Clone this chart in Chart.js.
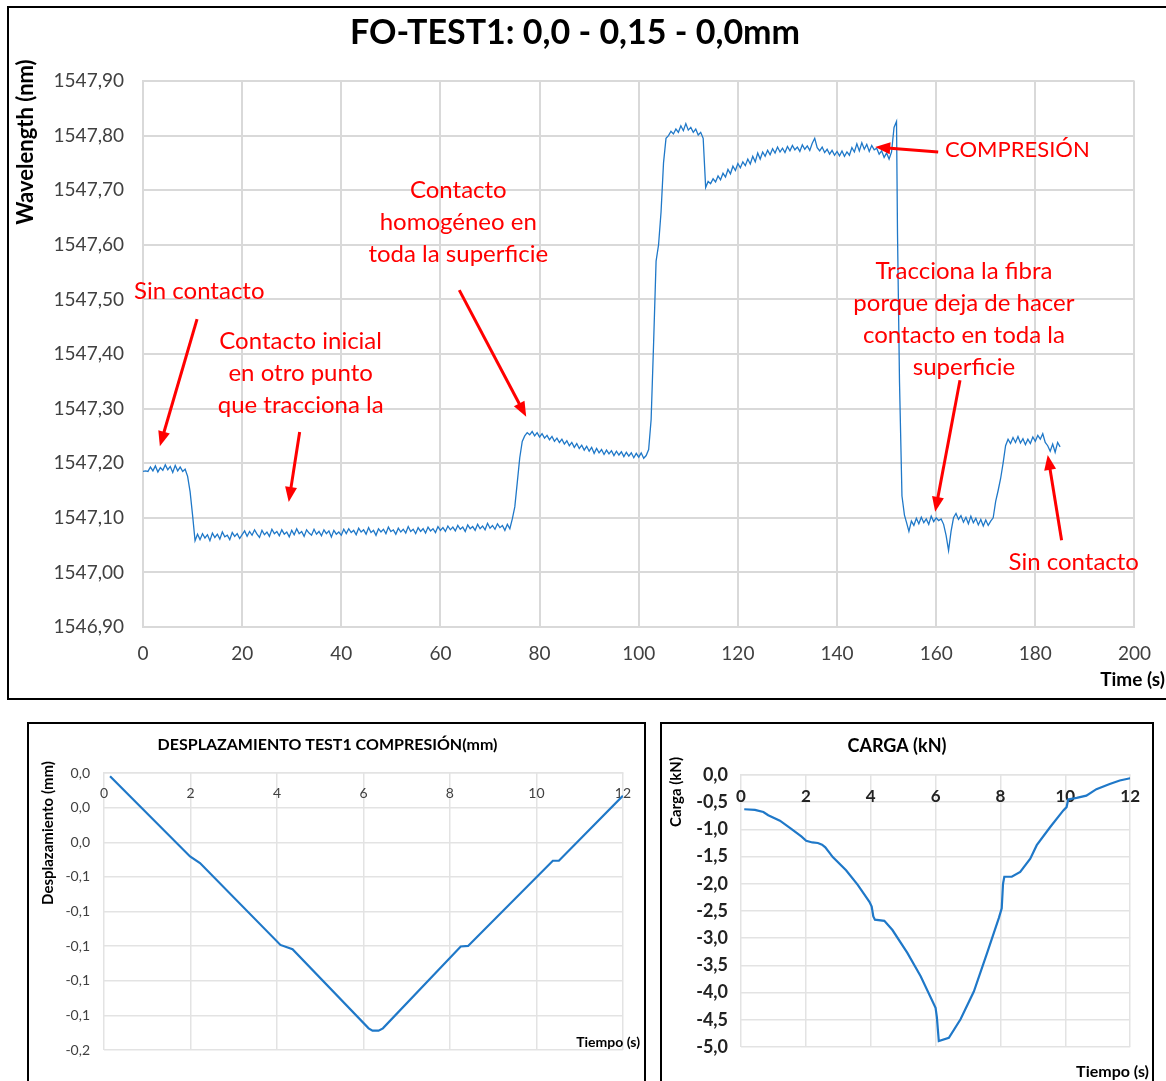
<!DOCTYPE html>
<html>
<head>
<meta charset="utf-8">
<script src="https://cdn.jsdelivr.net/npm/chart.js@4.4.1/dist/chart.umd.min.js"></script>
<style>
    body { margin: 0; background: #fff; width: 1166px; height: 1081px; position: relative; overflow: hidden; }
    .frame { position: absolute; border: 2px solid #000; box-sizing: border-box; }
    canvas { position: absolute; }
</style>
</head>
<body>
<div class="frame" style="left:7px;top:6px;width:1170px;height:694px"></div>
<div class="frame" style="left:27px;top:722px;width:619px;height:380px"></div>
<div class="frame" style="left:660px;top:722px;width:494px;height:380px"></div>

<canvas id="wlChart" width="1157" height="690" style="left:9px;top:8px"></canvas>
<canvas id="despChart" width="613" height="356" style="left:30px;top:725px"></canvas>
<canvas id="cargaChart" width="488" height="356" style="left:663px;top:725px"></canvas>

<script>
// --- Daten: FO-TEST1 Wellenlänge (Zeit s, nm) ---
const wlTicks = [1546.9, 1547.0, 1547.1, 1547.2, 1547.3, 1547.4, 1547.5, 1547.6, 1547.7, 1547.8, 1547.9];
const timeTicks = [0, 20, 40, 60, 80, 100, 120, 140, 160, 180, 200];

const wlSeries = [
    [0,1547.185],[0.5,1547.186],[1,1547.185],[1.5,1547.193],[2,1547.186],[2.5,1547.195],[3,1547.184],[3.5,1547.192],
    [4,1547.187],[4.5,1547.197],[5,1547.188],[5.5,1547.194],[6,1547.183],[6.5,1547.196],[7,1547.186],[7.5,1547.193],
    [8,1547.185],[8.5,1547.189],[9,1547.176],[9.5,1547.148],[10,1547.105],[10.5,1547.058],[11,1547.070],[11.5,1547.060],
    [12,1547.071],[12.5,1547.063],[13,1547.069],[13.5,1547.058],[14,1547.072],[14.5,1547.064],[15,1547.070],[15.5,1547.061],
    [16,1547.074],[16.5,1547.065],[17,1547.068],[17.5,1547.060],[18,1547.073],[18.5,1547.066],[19,1547.071],[19.5,1547.062],
    [20,1547.069],[20.5,1547.076],[21,1547.066],[21.5,1547.075],[22,1547.068],[22.5,1547.078],[23,1547.070],[23.5,1547.064],
    [24,1547.077],[24.5,1547.069],[25,1547.074],[25.5,1547.066],[26,1547.079],[26.5,1547.071],[27,1547.075],[27.5,1547.067],
    [28,1547.078],[28.5,1547.070],[29,1547.074],[29.5,1547.065],[30,1547.077],[30.5,1547.069],[31,1547.080],[31.5,1547.071],
    [32,1547.075],[32.5,1547.066],[33,1547.078],[33.5,1547.072],[34,1547.068],[34.5,1547.079],[35,1547.070],[35.5,1547.075],
    [36,1547.067],[36.5,1547.078],[37,1547.071],[37.5,1547.076],[38,1547.065],[38.5,1547.077],[39,1547.070],[39.5,1547.074],
    [40,1547.068],[40.5,1547.079],[41,1547.071],[41.5,1547.080],[42,1547.073],[42.5,1547.077],[43,1547.069],[43.5,1547.081],
    [44,1547.074],[44.5,1547.078],[45,1547.070],[45.5,1547.082],[46,1547.073],[46.5,1547.077],[47,1547.068],[47.5,1547.080],
    [48,1547.074],[48.5,1547.079],[49,1547.071],[49.5,1547.083],[50,1547.075],[50.5,1547.078],[51,1547.070],[51.5,1547.081],
    [52,1547.074],[52.5,1547.079],[53,1547.072],[53.5,1547.084],[54,1547.075],[54.5,1547.079],[55,1547.071],[55.5,1547.082],
    [56,1547.075],[56.5,1547.080],[57,1547.072],[57.5,1547.083],[58,1547.076],[58.5,1547.080],[59,1547.073],[59.5,1547.084],
    [60,1547.077],[60.5,1547.082],[61,1547.075],[61.5,1547.085],[62,1547.078],[62.5,1547.083],[63,1547.076],[63.5,1547.086],
    [64,1547.079],[64.5,1547.083],[65,1547.075],[65.5,1547.087],[66,1547.080],[66.5,1547.084],[67,1547.077],[67.5,1547.088],
    [68,1547.080],[68.5,1547.085],[69,1547.078],[69.5,1547.090],[70,1547.081],[70.5,1547.086],[71,1547.079],[71.5,1547.089],
    [72,1547.082],[72.5,1547.086],[73,1547.077],[73.5,1547.088],[74,1547.080],[74.5,1547.098],[75,1547.120],[75.5,1547.165],
    [76,1547.210],[76.5,1547.240],[77,1547.250],[77.5,1547.256],[78,1547.252],[78.5,1547.258],[79,1547.250],[79.5,1547.256],
    [80,1547.248],[80.5,1547.254],[81,1547.246],[81.5,1547.251],[82,1547.243],[82.5,1547.249],[83,1547.240],[83.5,1547.246],
    [84,1547.238],[84.5,1547.244],[85,1547.235],[85.5,1547.241],[86,1547.232],[86.5,1547.238],[87,1547.229],[87.5,1547.236],
    [88,1547.227],[88.5,1547.233],[89,1547.224],[89.5,1547.231],[90,1547.222],[90.5,1547.229],[91,1547.218],[91.5,1547.227],
    [92,1547.219],[92.5,1547.225],[93,1547.216],[93.5,1547.224],[94,1547.217],[94.5,1547.223],[95,1547.214],[95.5,1547.222],
    [96,1547.215],[96.5,1547.221],[97,1547.212],[97.5,1547.220],[98,1547.213],[98.5,1547.219],[99,1547.210],[99.5,1547.218],
    [100,1547.211],[100.5,1547.219],[101,1547.209],[101.5,1547.214],[102,1547.225],[102.5,1547.280],[103,1547.420],[103.5,1547.570],
    [104,1547.600],[104.5,1547.660],[105,1547.750],[105.5,1547.795],[106,1547.800],[106.5,1547.808],[107,1547.803],[107.5,1547.812],
    [108,1547.806],[108.5,1547.818],[109,1547.809],[109.5,1547.822],[110,1547.810],[110.5,1547.815],[111,1547.806],[111.5,1547.812],
    [112,1547.801],[112.5,1547.806],[113,1547.795],[113.5,1547.705],[114,1547.716],[114.5,1547.712],[115,1547.721],[115.5,1547.715],
    [116,1547.726],[116.5,1547.719],[117,1547.731],[117.5,1547.724],[118,1547.738],[118.5,1547.730],[119,1547.744],[119.5,1547.736],
    [120,1547.749],[120.5,1547.741],[121,1547.752],[121.5,1547.745],[122,1547.757],[122.5,1547.748],[123,1547.762],[123.5,1547.752],
    [124,1547.768],[124.5,1547.757],[125,1547.770],[125.5,1547.762],[126,1547.773],[126.5,1547.765],[127,1547.776],[127.5,1547.768],
    [128,1547.779],[128.5,1547.770],[129,1547.777],[129.5,1547.769],[130,1547.780],[130.5,1547.772],[131,1547.782],[131.5,1547.774],
    [132,1547.779],[132.5,1547.771],[133,1547.783],[133.5,1547.775],[134,1547.781],[134.5,1547.773],[135,1547.786],[135.5,1547.795],
    [136,1547.778],[136.5,1547.772],[137,1547.779],[137.5,1547.769],[138,1547.775],[138.5,1547.766],[139,1547.773],[139.5,1547.764],
    [140,1547.771],[140.5,1547.763],[141,1547.772],[141.5,1547.762],[142,1547.770],[142.5,1547.764],[143,1547.778],[143.5,1547.770],
    [144,1547.785],[144.5,1547.772],[145,1547.787],[145.5,1547.775],[146,1547.784],[146.5,1547.771],[147,1547.782],[147.5,1547.774],
    [148,1547.777],[148.5,1547.766],[149,1547.772],[149.5,1547.760],[150,1547.768],[150.5,1547.757],[151,1547.770],[151.5,1547.815],
    [152,1547.826],[152.2,1547.620],[152.6,1547.350],[153.1,1547.140],[153.6,1547.105],[154,1547.092],[154.5,1547.075],[155,1547.094],
    [155.5,1547.086],[156,1547.099],[156.5,1547.089],[157,1547.101],[157.5,1547.091],[158,1547.098],[158.5,1547.088],[159,1547.103],
    [159.5,1547.093],[160,1547.100],[160.5,1547.095],[161,1547.098],[161.5,1547.088],[162,1547.068],[162.5,1547.040],[163,1547.075],
    [163.5,1547.100],[164,1547.108],[164.5,1547.097],[165,1547.104],[165.5,1547.092],[166,1547.101],[166.5,1547.089],[167,1547.103],
    [167.5,1547.091],[168,1547.099],[168.5,1547.087],[169,1547.097],[169.5,1547.085],[170,1547.096],[170.5,1547.086],[171,1547.094],
    [171.5,1547.100],[172,1547.130],[172.5,1547.150],[173,1547.172],[173.5,1547.200],[174,1547.232],[174.5,1547.244],[175,1547.236],
    [175.5,1547.247],[176,1547.238],[176.5,1547.249],[177,1547.237],[177.5,1547.245],[178,1547.234],[178.5,1547.244],[179,1547.236],
    [179.5,1547.248],[180,1547.240],[180.5,1547.251],[181,1547.244],[181.5,1547.254],[182,1547.238],[182.5,1547.232],[183,1547.222],
    [183.5,1547.235],[184,1547.220],[184.5,1547.238],[185,1547.230]
];

// --- Daten: Desplazamiento (s, mm) ---
const dispTickValues = [-0.16, -0.14, -0.12, -0.10, -0.08, -0.06, -0.04, -0.02, 0];
const dispTickLabels = ['-0,2', '-0,1', '-0,1', '-0,1', '-0,1', '-0,1', '0,0', '0,0', '0,0'];
const secTicks = [0, 2, 4, 6, 8, 10, 12];
const dispSeries = [
    [0.14,-0.0019],[1.99,-0.0482],[2.22,-0.0520],[4.08,-0.0993],[4.36,-0.1018],[6.12,-0.1475],[6.21,-0.1488],
    [6.35,-0.1488],[6.45,-0.1475],[8.25,-0.1002],[8.42,-0.0999],[10.38,-0.0507],[10.52,-0.0507],[12.0,-0.0131]
];

// --- Daten: Carga (s, kN) ---
const cargaTicks = [-5, -4.5, -4, -3.5, -3, -2.5, -2, -1.5, -1, -0.5, 0];
const cargaSeries = [
    [0.1,-0.63],[0.43,-0.64],[0.69,-0.68],[0.84,-0.74],[1.2,-0.84],[1.55,-0.99],[1.86,-1.13],[2.01,-1.21],
    [2.2,-1.24],[2.37,-1.25],[2.5,-1.28],[2.6,-1.33],[2.83,-1.51],[3.24,-1.75],[3.6,-2.02],[3.96,-2.33],
    [4.03,-2.42],[4.08,-2.60],[4.13,-2.66],[4.42,-2.68],[4.67,-2.85],[5.13,-3.27],[5.54,-3.70],[6.0,-4.28],
    [6.04,-4.45],[6.1,-4.89],[6.41,-4.83],[6.77,-4.49],[7.18,-3.98],[7.59,-3.27],[7.95,-2.63],[8.04,-2.45],
    [8.08,-2.00],[8.12,-1.87],[8.35,-1.87],[8.61,-1.78],[8.92,-1.54],[9.12,-1.29],[9.53,-0.96],[9.94,-0.65],
    [10.04,-0.59],[10.09,-0.45],[10.35,-0.42],[10.65,-0.38],[10.96,-0.26],[11.37,-0.165],[11.68,-0.10],[12.0,-0.06]
];

const FONT = "Lato";
const RED = "#ff0000";
const LINE_BLUE = "#1f78c8";
Chart.defaults.font.family = FONT;

// Zusätzliche Texte und Pfeile (rote Anmerkungen, Achsentitel)
const overlayPlugin = {
    id: "overlay",
    afterDraw(chart, args, opts) {
        const { ctx, scales } = chart;
        const toPx = (p) => p.data
            ? [scales.x.getPixelForValue(p.x), scales.y.getPixelForValue(p.y)]
            : [p.x, p.y];

        ctx.save();
        (opts.arrows || []).forEach((a) => {
            const [x1, y1] = toPx({ data: true, x: a.from[0], y: a.from[1] });
            const [x2, y2] = toPx({ data: true, x: a.to[0], y: a.to[1] });
            const ang = Math.atan2(y2 - y1, x2 - x1);
            const head = 15, half = 6;
            const c = Math.cos(ang), s = Math.sin(ang);
            ctx.strokeStyle = RED;
            ctx.fillStyle = RED;
            ctx.lineWidth = 3;
            ctx.beginPath();
            ctx.moveTo(x1, y1);
            ctx.lineTo(x2 - head * 0.8 * c, y2 - head * 0.8 * s);
            ctx.stroke();
            ctx.beginPath();
            ctx.moveTo(x2, y2);
            ctx.lineTo(x2 - head * c + half * s, y2 - head * s - half * c);
            ctx.lineTo(x2 - head * c - half * s, y2 - head * s + half * c);
            ctx.closePath();
            ctx.fill();
        });
        (opts.labels || []).forEach((l) => {
            const [x, y] = toPx(l);
            ctx.save();
            ctx.translate(x, y);
            if (l.rotate) ctx.rotate(l.rotate);
            ctx.font = l.font;
            ctx.fillStyle = l.color || "#000";
            ctx.textAlign = l.align || "center";
            ctx.textBaseline = "middle";
            l.lines.forEach((txt, i) => ctx.fillText(txt, 0, i * (l.lineHeight || 0)));
            ctx.restore();
        });
        ctx.restore();
    },
};

const comma = (v, d) => v.toFixed(d).replace(".", ",");
const setTicks = (values) => (scale) => { scale.ticks = values.map((v) => ({ value: v })); };

// ---------- Oberes Diagramm ----------
const noteFont = "24px " + FONT;
new Chart(document.getElementById("wlChart"), {
    type: "line",
    data: {
        datasets: [{
            data: wlSeries.map(([t, v]) => ({ x: t, y: v })),
            borderColor: LINE_BLUE,
            borderWidth: 1.3,
            pointRadius: 0,
            tension: 0,
        }],
    },
    options: {
        responsive: false,
        animation: false,
        layout: { padding: { top: 0, right: 25, bottom: 0, left: 0 } },
        plugins: {
            legend: { display: false },
            tooltip: { enabled: false },
            title: {
                display: true,
                text: "FO-TEST1: 0,0 - 0,15 - 0,0mm",
                color: "#000",
                font: { size: 34, weight: "bold" },
                padding: { top: 5, bottom: 27.2 },
            },
            overlay: {
                labels: [
                    { x: 17, y: 134, rotate: -Math.PI / 2, lines: ["Wavelength (nm)"], font: "bold 22px " + FONT },
                    { x: 1156, y: 672, align: "right", lines: ["Time (s)"], font: "bold 19px " + FONT },
                    { data: true, x: -1.8, y: 1547.515, align: "left", color: RED, font: noteFont, lines: ["Sin contacto"] },
                    { data: true, x: 31.8, y: 1547.424, color: RED, font: noteFont, lineHeight: 32,
                      lines: ["Contacto inicial", "en otro punto", "que tracciona la"] },
                    { data: true, x: 63.6, y: 1547.699, color: RED, font: noteFont, lineHeight: 32,
                      lines: ["Contacto", "homogéneo en", "toda la superficie"] },
                    { data: true, x: 161.8, y: 1547.774, align: "left", color: RED, font: "22px " + FONT, lines: ["COMPRESIÓN"] },
                    { data: true, x: 165.6, y: 1547.552, color: RED, font: noteFont, lineHeight: 32,
                      lines: ["Tracciona la fibra", "porque deja de hacer", "contacto en toda la", "superficie"] },
                    { data: true, x: 174.6, y: 1547.019, align: "left", color: RED, font: noteFont, lines: ["Sin contacto"] },
                ],
                arrows: [
                    { from: [10.9, 1547.464], to: [3.4, 1547.231] },
                    { from: [31.6, 1547.257], to: [29.4, 1547.129] },
                    { from: [63.8, 1547.517], to: [77.3, 1547.285] },
                    { from: [160.4, 1547.770], to: [147.7, 1547.779] },
                    { from: [164.8, 1547.352], to: [159.8, 1547.111] },
                    { from: [185.3, 1547.059], to: [182.5, 1547.215] },
                ],
            },
        },
        scales: {
            x: {
                type: "linear",
                min: 0,
                max: 200,
                afterBuildTicks: setTicks(timeTicks),
                afterFit: (s) => { s.height = 71; },
                grid: { color: "#d9d9d9", lineWidth: 2, drawTicks: false },
                border: { color: "#d9d9d9", width: 2 },
                ticks: { color: "#404040", font: { size: 19 }, padding: 15, maxRotation: 0 },
            },
            y: {
                min: 1546.9,
                max: 1547.9,
                afterBuildTicks: setTicks(wlTicks),
                afterFit: (s) => { s.width = 134; },
                grid: { color: "#d9d9d9", lineWidth: 2, drawTicks: false },
                border: { color: "#d9d9d9", width: 2 },
                ticks: { color: "#404040", font: { size: 19 }, padding: 19, callback: (v) => comma(v, 2) },
            },
        },
    },
    plugins: [overlayPlugin],
});

// ---------- Desplazamiento ----------
new Chart(document.getElementById("despChart"), {
    type: "line",
    data: {
        datasets: [{
            data: dispSeries.map(([t, v]) => ({ x: t, y: v })),
            borderColor: LINE_BLUE,
            borderWidth: 2.2,
            pointRadius: 0,
            tension: 0,
        }],
    },
    options: {
        responsive: false,
        animation: false,
        layout: { padding: { top: 0, right: 18, bottom: 31, left: 0 } },
        plugins: {
            legend: { display: false },
            tooltip: { enabled: false },
            title: {
                display: true,
                text: "DESPLAZAMIENTO TEST1 COMPRESIÓN(mm)",
                color: "#000",
                font: { size: 16, weight: "bold" },
                padding: { top: 10, bottom: 18.8 },
            },
            overlay: {
                labels: [
                    { x: 18, y: 108, rotate: -Math.PI / 2, lines: ["Desplazamiento (mm)"], font: "bold 15px " + FONT },
                    { x: 610, y: 317, align: "right", lines: ["Tiempo (s)"], font: "bold 14px " + FONT },
                ],
            },
        },
        scales: {
            x: {
                type: "linear",
                min: 0,
                max: 12,
                position: { y: 0 },
                afterBuildTicks: setTicks(secTicks),
                grid: { color: "#e3e3e3", lineWidth: 1.5, drawTicks: false },
                border: { color: "#e3e3e3", width: 1.5 },
                ticks: { color: "#404040", font: { size: 14 }, padding: 12, maxRotation: 0 },
            },
            y: {
                min: -0.16,
                max: 0,
                afterBuildTicks: setTicks(dispTickValues),
                afterFit: (s) => { s.width = 74; },
                grid: { color: "#e3e3e3", lineWidth: 1.5, drawTicks: false },
                border: { display: false },
                ticks: { color: "#404040", font: { size: 14 }, padding: 14, callback: (v, i) => dispTickLabels[i] },
            },
        },
    },
    plugins: [overlayPlugin],
});

// ---------- Carga ----------
new Chart(document.getElementById("cargaChart"), {
    type: "line",
    data: {
        datasets: [{
            data: cargaSeries.map(([t, v]) => ({ x: t, y: v })),
            borderColor: LINE_BLUE,
            borderWidth: 2.2,
            pointRadius: 0,
            tension: 0,
        }],
    },
    options: {
        responsive: false,
        animation: false,
        layout: { padding: { top: 0, right: 20, bottom: 34, left: 0 } },
        plugins: {
            legend: { display: false },
            tooltip: { enabled: false },
            title: {
                display: true,
                text: "CARGA (kN)",
                color: "#000",
                font: { size: 18, weight: "bold" },
                padding: { top: 10, bottom: 18.4 },
            },
            overlay: {
                labels: [
                    { x: 13, y: 67, rotate: -Math.PI / 2, lines: ["Carga (kN)"], font: "bold 15px " + FONT },
                    { x: 486, y: 347, align: "right", lines: ["Tiempo (s)"], font: "bold 16px " + FONT },
                ],
            },
        },
        scales: {
            x: {
                type: "linear",
                min: 0,
                max: 12,
                position: { y: 0 },
                afterBuildTicks: setTicks(secTicks),
                grid: { color: "#e3e3e3", lineWidth: 1.5, drawTicks: false },
                border: { color: "#e3e3e3", width: 1.5 },
                ticks: { color: "#222", font: { size: 17, weight: "bold" }, padding: 11, maxRotation: 0 },
            },
            y: {
                min: -5,
                max: 0,
                afterBuildTicks: setTicks(cargaTicks),
                afterFit: (s) => { s.width = 78; },
                grid: { color: "#e3e3e3", lineWidth: 1.5, drawTicks: false },
                border: { display: false },
                ticks: { color: "#222", font: { size: 18, weight: "bold" }, padding: 13, callback: (v) => comma(v, 1) },
            },
        },
    },
    plugins: [overlayPlugin],
});
</script>
</body>
</html>
